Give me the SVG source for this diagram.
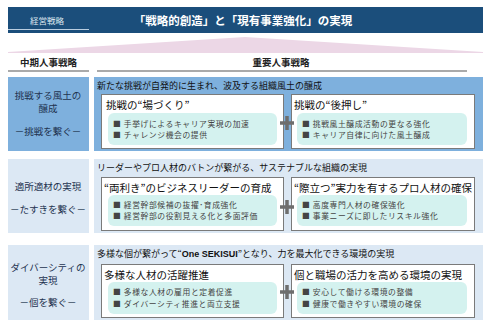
<svg xmlns="http://www.w3.org/2000/svg" width="488" height="327" viewBox="0 0 488 327">
<defs>
<style>
text{font-family:"Noto Sans CJK JP","Noto Sans CJK SC",sans-serif;}
.hdr{fill:#1b4e7b;}
.ttl{fill:#fff;font-size:11.5px;font-weight:bold;}
.sub{fill:#dfe8f0;font-size:8.5px;}
.colh{fill:#222;font-size:9.5px;font-weight:bold;}
.rule{stroke:#aaaaaa;stroke-width:2;}
.blue{fill:#7eb0dd;}
.pale{fill:#dce8f4;}
.lt{fill:#1e3350;font-size:9.5px;text-anchor:middle;}
.head{fill:#111;font-size:9px;}
.card{fill:#fff;stroke:#7a7a7a;stroke-width:1;}
.ct{fill:#111;font-size:10.5px;}
.mint{fill:#d4f2ef;}
.bl{fill:#444;font-size:7.8px;letter-spacing:0.6px;}
.plus{stroke:#6e6e6e;stroke-width:3.5;}
</style>
</defs>
<rect width="488" height="327" fill="#fff"/>
<g id="header">
<rect class="hdr" x="8" y="7" width="475" height="26"/>
<text class="sub" x="30" y="23.5">経営戦略</text>
<line x1="8" y1="29.5" x2="89" y2="29.5" stroke="#b9cde0" stroke-width="1"/>
<text class="ttl" x="243" y="25" text-anchor="middle">「戦略的創造」と「現有事業強化」の実現</text>
</g>
<g id="wedge">
<polygon points="8,52 245,37 483,52 483,53 8,53" fill="#ecd7e6"/>
</g>
<g id="colheads">
<text class="colh" x="20" y="66">中期人事戦略</text>
<text class="colh" x="281" y="66" text-anchor="middle">重要人事戦略</text>
<line class="rule" x1="8" y1="71" x2="89" y2="71"/>
<line class="rule" x1="97" y1="71" x2="467" y2="71"/>
</g>
<g id="row1-left">
<rect class="blue" x="8" y="77" width="81" height="74"/>
<text class="lt" x="48" y="99">挑戦する風土の</text>
<text class="lt" x="48" y="112">醸成</text>
<text class="lt" x="48" y="135">－挑戦を繋ぐ－</text>
</g>
<g id="row1-right">
<rect class="blue" x="94" y="77" width="389" height="74"/>
<text class="head" x="97" y="89">新たな挑戦が自発的に生まれ、波及する組織風土の醸成</text>
</g>
<g id="row1-card1">
<rect class="card" x="101.5" y="94.5" width="182" height="54"/>
<text class="ct" x="106" y="109">挑戦の“場づくり”</text>
<rect class="mint" x="108" y="113" width="169" height="32" rx="6"/>
<text class="bl" x="113" y="127">■ 手挙げによるキャリア実現の加速</text>
<text class="bl" x="113" y="138">■ チャレンジ機会の提供</text>
</g>
<g id="row1-card2">
<rect class="card" x="291.5" y="94.5" width="183" height="54"/>
<text class="ct" x="294" y="109">挑戦の“後押し”</text>
<rect class="mint" x="297" y="113" width="170" height="32" rx="6"/>
<text class="bl" x="302" y="127">■ 挑戦風土醸成活動の更なる強化</text>
<text class="bl" x="302" y="138">■ キャリア自律に向けた風土醸成</text>
</g>
<g id="row2-left">
<rect class="pale" x="8" y="159" width="81" height="74"/>
<text class="lt" x="48" y="190">適所適材の実現</text>
<text class="lt" x="48" y="213">－たすきを繋ぐ－</text>
</g>
<g id="row2-right">
<rect class="pale" x="94" y="159" width="389" height="74"/>
<text class="head" x="97" y="171">リーダーやプロ人材のバトンが繋がる、サステナブルな組織の実現</text>
</g>
<g id="row2-card1">
<rect class="card" x="101.5" y="177.5" width="182" height="53"/>
<text class="ct" x="104" y="192">“両利き”のビジネスリーダーの育成</text>
<rect class="mint" x="108" y="195" width="169" height="31" rx="6"/>
<text class="bl" x="113" y="208">■ 経営幹部候補の抜擢･育成強化</text>
<text class="bl" x="113" y="219">■ 経営幹部の役割見える化と多面評価</text>
</g>
<g id="row2-card2">
<rect class="card" x="291.5" y="177.5" width="183" height="53"/>
<text class="ct" x="294" y="192">“際立つ”実力を有するプロ人材の確保</text>
<rect class="mint" x="297" y="195" width="170" height="31" rx="6"/>
<text class="bl" x="302" y="208">■ 高度専門人材の確保強化</text>
<text class="bl" x="302" y="219">■ 事業ニーズに即したリスキル強化</text>
</g>
<g id="row3-left">
<rect class="pale" x="8" y="245" width="81" height="75"/>
<text class="lt" x="48" y="271">ダイバーシティの</text>
<text class="lt" x="48" y="284">実現</text>
<text class="lt" x="48" y="306">－個を繋ぐ－</text>
</g>
<g id="row3-right">
<rect class="pale" x="94" y="245" width="389" height="75"/>
<text class="head" x="97" y="257">多様な個が繋がって“<tspan font-family="Liberation Sans, Arial, sans-serif" font-weight="bold">One SEKISUI</tspan>”となり、力を最大化できる環境の実現</text>
</g>
<g id="row3-card1">
<rect class="card" x="101.5" y="264.5" width="182" height="53"/>
<text class="ct" x="104" y="279">多様な人材の活躍推進</text>
<rect class="mint" x="108" y="282" width="169" height="32" rx="6"/>
<text class="bl" x="113" y="295">■ 多様な人材の雇用と定着促進</text>
<text class="bl" x="113" y="307">■ ダイバーシティ推進と両立支援</text>
</g>
<g id="row3-card2">
<rect class="card" x="291.5" y="264.5" width="183" height="53"/>
<text class="ct" x="294" y="279">個と職場の活力を高める環境の実現</text>
<rect class="mint" x="297" y="282" width="170" height="32" rx="6"/>
<text class="bl" x="302" y="295">■ 安心して働ける環境の整備</text>
<text class="bl" x="302" y="307">■ 健康で働きやすい環境の確保</text>
</g>
<g id="connectors">
<path class="plus" d="M280,123 H294 M287,116 V130"/>
<path class="plus" d="M280,207 H294 M287,200 V214"/>
<path class="plus" d="M280,292 H294 M287,285 V299"/>
</g>
</svg>
